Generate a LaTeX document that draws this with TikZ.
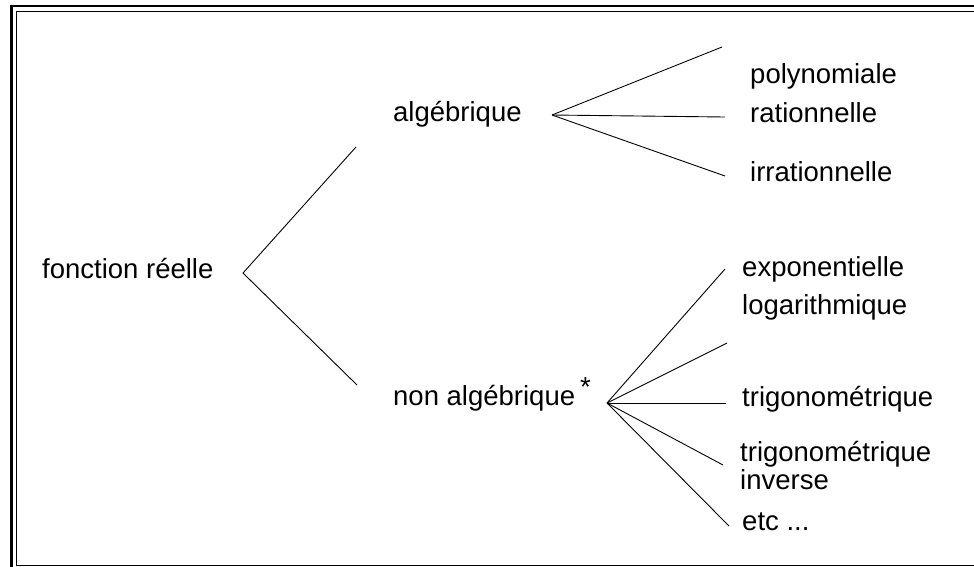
\documentclass[tikz,border=0pt]{standalone}
\usepackage{fontspec}
\setmainfont{Liberation Sans}
\begin{document}
\begin{tikzpicture}[x=1pt,y=-1pt,
  lbl/.style={anchor=base west, inner sep=0pt, font=\fontsize{27.5}{28}\selectfont},
  conn/.style={line width=0.9pt}]
\useasboundingbox (0,0) rectangle (974,566);
\begin{scope}
  \clip (0,0) rectangle (974,566);
  \draw[line width=2.6pt] (11.5,6) rectangle (1000,600);
  \draw[line width=1.3pt] (16.5,11.5) rectangle (1000,565.5);
\end{scope}
% labels
\node[lbl] (root) at (42,278) {fonction réelle};
\node[lbl] (alg) at (393,121) {algébrique};
\node[lbl] (nalg) at (393,405) {non algébrique};
\node[lbl] (star) at (580,396) {*};
\node[lbl] (poly) at (750,83) {polynomiale};
\node[lbl] (rat) at (750,122) {rationnelle};
\node[lbl] (irr) at (750,181) {irrationnelle};
\node[lbl] (expo) at (742,276) {exponentielle};
\node[lbl] (loga) at (742,314) {logarithmique};
\node[lbl] (trig) at (742,406) {trigonométrique};
\node[lbl,align=left,anchor=north west] (trinv) at (740,441) {trigonométrique\\inverse};
\node[lbl] (etc) at (742,530) {etc ...};
% branch points
\coordinate (r) at (243,273);
\coordinate (ra) at (356,147);
\coordinate (rn) at (357,385);
\coordinate (va) at (552,115);
\coordinate (vn) at (607,403);
\coordinate (ep) at (722,47);
\coordinate (er) at (725,117);
\coordinate (ei) at (725,176);
\coordinate (ee) at (725,269);
\coordinate (el) at (727,343);
\coordinate (et) at (726,403);
\coordinate (ev) at (723,465);
\coordinate (ec) at (729,526);
% connectors
\draw[conn] (ra) -- (r) -- (rn);
\foreach \e in {ep,er,ei} \draw[conn] (va) -- (\e);
\foreach \e in {ee,el,et,ev,ec} \draw[conn] (vn) -- (\e);
\end{tikzpicture}
\end{document}
